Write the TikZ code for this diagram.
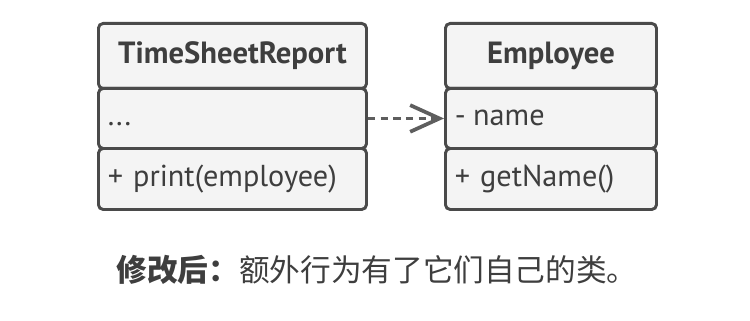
\documentclass[tikz,border=0pt]{standalone}
\usepackage{fontspec}
\setmainfont{PT Sans}
\newfontfamily\cjk{Noto Sans CJK SC}
\usetikzlibrary{arrows.meta, positioning}
\definecolor{umlline}{HTML}{4A4A4A}
\definecolor{umlfill}{HTML}{F4F4F4}
\definecolor{umltext}{HTML}{3E3E3E}
\definecolor{umlarrow}{HTML}{5E5E5E}

\begin{document}
\begin{tikzpicture}[
    x=0.75pt, y=-0.75pt,
    part/.style={draw=umlline, fill=umlfill, line width=2.2pt, rounded corners=3.5pt, anchor=north west, inner sep=0pt, text=umltext, font=\fontsize{22.7}{26}\selectfont},
    head/.style={part, font=\fontsize{23}{26}\selectfont\bfseries},
    member/.style={part, align=left, text width=#1-14pt, minimum width=#1, text height=15pt, text depth=4pt},
    depend/.style={-{Straight Barb[length=22pt, width=20pt, line width=2.8pt]}, line width=2.8pt, umlarrow, dash pattern=on 5.5pt off 4pt}
]
    \useasboundingbox (0,0) rectangle (750,321);

    % TimeSheetReport class
    \node[head, minimum width=201pt, minimum height=48.75pt] (report) at (97,22) {TimeSheetReport};
    \node[member=201pt, minimum height=45pt] (report-attr) at (97,87) {...};
    \node[member=201pt, minimum height=45.75pt] (report-ops) at (97,147) {+ print(employee)};

    % Employee class
    \node[head, minimum width=158.25pt, minimum height=48.75pt] (employee) at (444,22) {Employee};
    \node[member=158.25pt, minimum height=45pt] (employee-attr) at (444,87) {-\kern-2pt\ name};
    \node[member=158.25pt, minimum height=45.75pt] (employee-ops) at (444,147) {+ getName()};

    % dependency
    \draw[depend] (report-attr.east) -- (employee-attr.west);

    % caption
    \node[text=umltext, font=\cjk\fontsize{23}{28}\selectfont] (caption) at (377,270) {\textbf{修改后：}额外行为有了它们自己的类。};
\end{tikzpicture}
\end{document}
